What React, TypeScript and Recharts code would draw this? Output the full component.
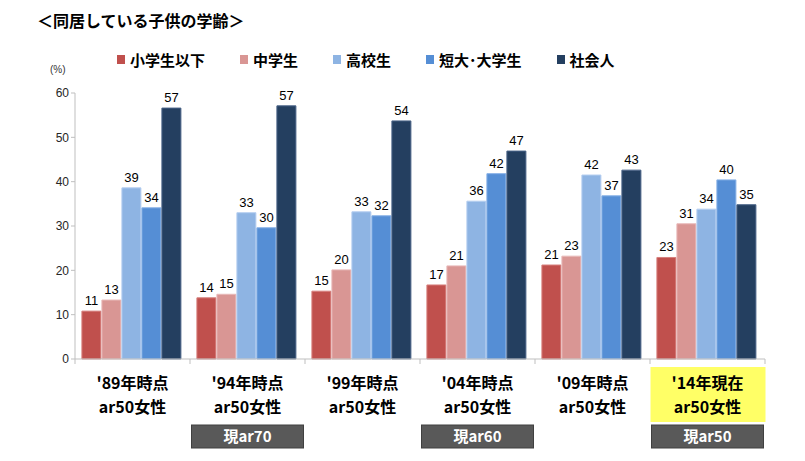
import React from "react";
import { BarChart, Bar, XAxis, YAxis, LabelList } from "recharts";

const categories = ["'89年時点", "'94年時点", "'99年時点", "'04年時点", "'09年時点", "'14年現在"];
const subLabels = ["ar50女性", "ar50女性", "ar50女性", "ar50女性", "ar50女性", "ar50女性"];
const nowLabels = ["", "現ar70", "", "現ar60", "", "現ar50"];

const elementary = [10.8, 13.8, 15.3, 16.7, 21.2, 22.9];
const juniorHigh = [13.3, 14.6, 20.1, 21.0, 23.2, 30.5];
const highSchool = [38.6, 33.0, 33.2, 35.6, 41.5, 33.8];
const university = [34.1, 29.6, 32.3, 41.8, 36.8, 40.4];
const working = [56.6, 57.1, 53.7, 46.9, 42.6, 34.8];

const seriesNames = ["小学生以下", "中学生", "高校生", "短大･大学生", "社会人"];
const yTicks = [0, 10, 20, 30, 40, 50, 60];

const COLORS = ["#c0504d", "#d99694", "#8eb4e3", "#558ed5", "#243f60"];
const STROKES = ["#d7807e", "#e8b9b8", "#b5cef0", "#86b0e6", "#4a6488"];
const KEYS = ["s0", "s1", "s2", "s3", "s4"];

const data = categories.map((c, i) => ({
  name: c,
  s0: elementary[i],
  s1: juniorHigh[i],
  s2: highSchool[i],
  s3: university[i],
  s4: working[i],
}));

const CAT_W = 690 / 6;
const JP = "'Noto Sans CJK JP', 'Noto Sans', sans-serif";
const NUM = "'Liberation Sans', Arial, sans-serif";

function XTick(props: any) {
  const { x, y, payload, index } = props;
  const last = index === categories.length - 1;
  const now = nowLabels[index];
  return (
    <g>
      <line x1={x - CAT_W / 2} x2={x - CAT_W / 2} y1={y - 8} y2={y - 3} stroke="#bfbfbf" />
      {last && <line x1={x + CAT_W / 2} x2={x + CAT_W / 2} y1={y - 8} y2={y - 3} stroke="#bfbfbf" />}
      {last && <rect x={x - 57} y={y + 0} width={115} height={55} fill="#ffff66" />}
      <text x={x} y={y + 22} textAnchor="middle" fontFamily={JP} fontWeight="bold" fontSize={16} fill="#000">
        {payload.value}
      </text>
      <text x={x} y={y + 46} textAnchor="middle" fontFamily={JP} fontWeight="bold" fontSize={16} fill="#000">
        {subLabels[index]}
      </text>
      {now && (
        <g>
          <rect x={x - 56} y={y + 58} width={112} height={23} fill="#595959" stroke="#404040" />
          <text x={x} y={y + 75} textAnchor="middle" fontFamily={JP} fontWeight="bold" fontSize={15} fill="#fff">
            {now}
          </text>
        </g>
      )}
    </g>
  );
}

export default function App() {
  return (
    <div style={{ position: "absolute", left: 0, top: 0, width: 805, height: 461, background: "#fff" }}>
      <div
        style={{
          position: "absolute",
          left: 37,
          top: 8,
          fontFamily: JP,
          fontWeight: "bold",
          fontSize: 16,
          color: "#000",
        }}
      >
        ＜同居している子供の学齢＞
      </div>
      <div
        style={{
          position: "absolute",
          top: 49,
          left: 117,
          display: "flex",
          gap: 35,
          fontFamily: JP,
          fontWeight: "bold",
          fontSize: 15,
        }}
      >
        {seriesNames.map((n, i) => (
          <div key={n} style={{ display: "flex", alignItems: "center" }}>
            <span style={{ width: 8, height: 9, background: COLORS[i], display: "inline-block", marginRight: 5 }} />
            <span style={{ color: "#000" }}>{n}</span>
          </div>
        ))}
      </div>
      <div style={{ position: "absolute", left: 50, top: 64, fontFamily: NUM, fontSize: 10, color: "#333" }}>
        (%)
      </div>
      <div style={{ position: "absolute", left: 0, top: 0 }}>
        <BarChart
          width={805}
          height={461}
          data={data}
          margin={{ top: 93, right: 40, bottom: 0, left: 35 }}
          barCategoryGap="6%"
          barGap={1}
        >
          <XAxis
            dataKey="name"
            stroke="#bfbfbf"
            tickLine={false}
            interval={0}
            tick={<XTick />}
            height={102}
          />
          <YAxis
            domain={[0, 60]}
            ticks={yTicks}
            width={40}
            stroke="#bfbfbf"
            tickSize={4}
            tick={{ fontFamily: NUM, fontSize: 12, fill: "#262626" }}
          />
          {KEYS.map((k, i) => (
            <Bar
              key={k}
              dataKey={k}
              name={seriesNames[i]}
              fill={COLORS[i]}
              stroke={STROKES[i]}
              strokeWidth={1}
              isAnimationActive={false}
            >
              <LabelList
                dataKey={k}
                position="top"
                offset={6}
                formatter={(v: any) => Math.round(Number(v))}
                style={{ fontFamily: NUM, fontSize: 13, fill: "#000" }}
              />
            </Bar>
          ))}
        </BarChart>
      </div>
    </div>
  );
}
